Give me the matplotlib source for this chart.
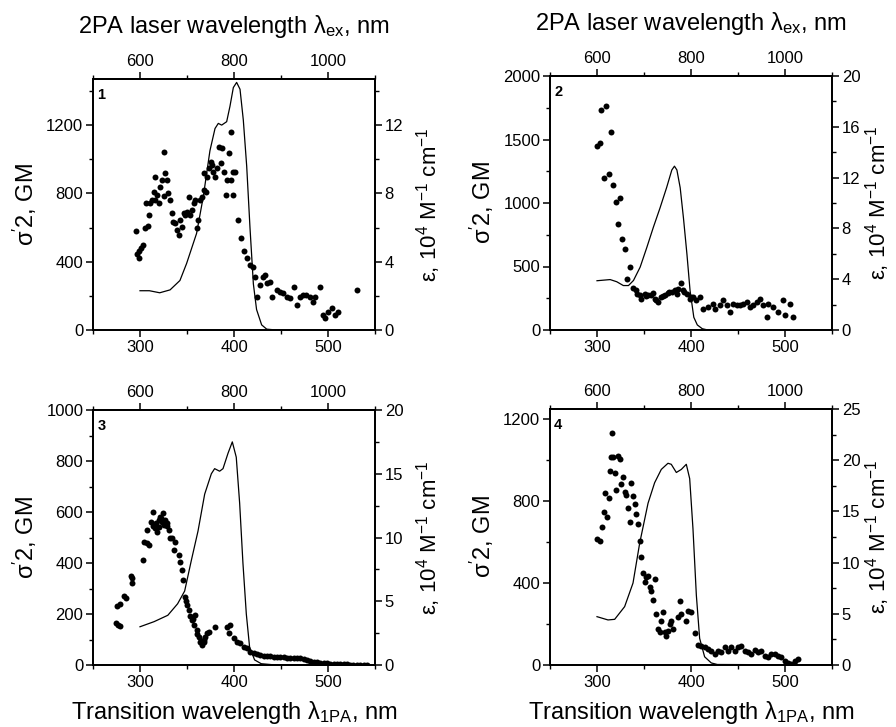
import matplotlib
matplotlib.use("Agg")
import matplotlib.pyplot as plt
from matplotlib.ticker import MultipleLocator, FixedLocator

plt.rcParams['font.family'] = ['Liberation Sans', 'DejaVu Sans']
plt.rcParams['mathtext.fontset'] = 'custom'
plt.rcParams['mathtext.rm'] = 'Liberation Sans'
plt.rcParams['mathtext.it'] = 'Liberation Sans'
plt.rcParams['mathtext.default'] = 'regular'

# ---------------- Panel 1 ----------------
p1_abs_x = [300, 310, 321, 332, 342.5, 349.6, 360.2, 367.3, 374.4, 379.8, 383.3, 386.9, 392.2, 395.7,
            399.3, 402.8, 406.4, 409.9, 413.5, 417, 420.6, 424, 429.4, 434.8, 445, 550]
p1_abs_y = [2.3, 2.3, 2.18, 2.35, 2.9, 3.9, 5.66, 7.8, 10.5, 11.8, 12.1, 12.0, 12.2, 13.1,
            14.2, 14.5, 14.1, 12.3, 9.6, 6.0, 2.7, 1.2, 0.3, 0.05, 0.0, 0.0]
p1_pts_x = [295.7, 296.4, 298.5, 301, 303.5, 298.5, 305.6, 308, 309.6, 306, 311, 315, 313, 316, 318,
            316, 320, 321.6, 323, 325, 327, 328.6, 325, 330, 332, 334, 335.6, 337, 339, 341, 343,
            344.6, 346.5, 348, 350, 352, 353, 355, 357, 359, 360.6, 362, 364, 366, 368, 370, 368,
            371, 373, 375, 376.5, 378, 380, 382, 384, 386, 387.6, 389, 391, 393, 395, 397, 397,
            399, 399, 401, 404.6, 407, 411, 413.5, 417, 420.6, 422.4, 424, 427.7, 431, 433, 434.8,
            438.3, 440, 445.4, 449, 452.5, 456, 459.6, 463.8, 466.7, 470, 473.8, 477, 481, 484.5,
            486.3, 491.6, 494.5, 497, 500.5, 504, 507.6, 511, 531]
p1_pts_y = [580, 447, 420, 478, 497, 460, 597, 611, 674, 742, 742, 810, 762, 762, 791,
            894, 742, 840, 879, 1040, 918, 879, 783, 800, 762, 684, 635, 625, 586, 557, 645,
            606, 684, 674, 693, 781, 674, 703, 742, 762, 597, 645, 762, 781, 820, 811, 918,
            898, 947, 986, 967, 928, 898, 947, 1074, 977, 1065, 928, 791, 879, 1035, 1162, 879,
            928, 791, 928, 645, 538, 460, 420, 381, 371, 313, 196, 264, 313, 322, 274,
            284, 196, 235, 225, 215, 196, 186, 254, 147, 196, 205, 205, 196, 166,
            196, 254, 88, 68, 107, 127, 88, 107, 235]

# ---------------- Panel 2 ----------------
p2_abs_x = [300, 314, 321, 328, 333.5, 338.8, 345.9, 353, 360, 367, 374, 379.6, 382.4, 385, 388.5,
            392, 395.7, 399, 403, 406.7, 412, 418, 550]
p2_abs_y = [3.88, 3.97, 3.8, 3.5, 3.5, 3.9, 4.95, 6.5, 8.1, 9.6, 11.2, 12.6, 12.9, 12.6, 11.2,
            8.8, 5.95, 3.1, 1.0, 0.4, 0.1, 0.0, 0.0]
p2_pts_x = [300, 302.8, 304.6, 309.2, 314.5, 307, 312.4, 317, 319.9, 324.9, 322.3, 327, 329.4, 334.8,
            332, 338, 341.8, 345.4, 347, 350.8, 354, 359.6, 361.3, 365, 368.5, 372, 375.8, 379.3,
            382.8, 384.6, 389.3, 391.7, 395.3, 398.8, 402.3, 405.8, 409.4, 413, 418.3, 423.6,
            425.4, 430.7, 434.3, 437.8, 441.4, 444.9, 448.5, 452, 455.6, 459.1, 462.7, 466.2,
            469.8, 473.3, 476.9, 480.4, 482.2, 487.5, 492.8, 498.2, 500, 505.3, 508.8,
            343, 352, 357, 363, 370, 377, 386, 393, 400]
p2_pts_y = [1451, 1470, 1732, 1764, 1562, 1198, 1232, 1140, 1009, 1040, 832, 714, 641, 496,
            404, 333, 318, 273, 247, 286, 273, 291, 247, 220, 260, 273, 291, 299,
            312, 286, 370, 312, 286, 247, 260, 234, 260, 168, 181, 207,
            168, 194, 234, 194, 142, 207, 194, 194, 207, 220, 181, 194,
            220, 247, 194, 102, 207, 181, 142, 234, 116, 207, 102,
            280, 265, 275, 240, 265, 300, 320, 300, 260]

# ---------------- Panel 3 ----------------
p3_abs_x = [300, 315, 329.6, 340, 347.5, 354.6, 361.7, 368.8, 375.9, 379.4, 384.7, 388.3, 393.6,
            398.2, 402.4, 406, 409.5, 413.1, 416.6, 421.9, 429, 440, 550]
p3_abs_y = [3.0, 3.4, 3.9, 4.8, 5.8, 8.2, 10.5, 13.4, 15.0, 15.4, 15.2, 15.4, 16.6,
            17.5, 16.3, 12.7, 8.0, 4.0, 1.4, 0.4, 0.1, 0.03, 0.0]
p3_pts_x = [274, 277, 278.4, 276, 278.4, 283, 284.8, 290, 291.9, 291, 303, 304.4, 307, 310, 307,
            311.5, 313.7, 316, 319.7, 321.5, 324.3, 326.8, 328.6, 330.4, 334, 337.6, 335.8, 343,
            345, 345.8, 347.5, 350, 351.8, 353.5, 355.3, 358.9, 357, 360.6, 362.4, 364, 366,
            367.7, 369.5, 371.3, 373, 380, 392.4, 394.2, 396, 399.6, 403, 406.8, 410.3, 413.8,
            417.4, 421, 424.5, 428, 431.5, 435, 438.6, 442.2, 445.7, 449.2, 452.8, 456.3, 459.9,
            463.4, 467, 470.5, 474, 477.6, 481.2, 484.8, 488.3, 491.8, 495.4, 498.9, 502.4, 506,
            509.5, 513, 516.6, 520, 523.6, 527, 530.8, 534.3, 537.9, 541,
            314, 317, 320, 323, 326, 318, 322, 329, 332, 341, 349, 356, 361, 365, 368]
p3_pts_y = [163, 157, 153, 231, 238, 271, 264, 349, 323, 341, 412, 484, 477, 471, 529,
            562, 601, 536, 569, 582, 597, 569, 556, 529, 497, 484, 451, 405,
            373, 333, 268, 235, 216, 193, 177, 197, 157, 137, 111, 91, 78,
            91, 111, 124, 131, 150, 150, 124, 157, 105, 91, 85, 72, 65,
            52, 46, 42, 39, 37, 35, 34, 33, 31, 30, 30, 29, 29,
            29, 27, 26, 23, 20, 16, 13, 11, 9, 7, 6, 5, 4,
            3, 3, 2, 2, 1, 1, 1, 1, 1, 1,
            545, 555, 540, 560, 550, 520, 575, 545, 500, 430, 250, 180, 120, 95, 100]

# ---------------- Panel 4 ----------------
p4_abs_x = [300, 311.7, 318.8, 329.4, 338.3, 345.4, 354.3, 361.3, 368.4, 375.5, 379, 384.4, 389.7,
            395, 398.6, 402.1, 405.7, 409.2, 414.5, 421.6, 428, 550]
p4_abs_y = [4.72, 4.4, 4.46, 5.7, 8.0, 11.9, 15.8, 17.8, 19.1, 19.7, 19.6, 18.8, 19.1,
            19.6, 18.2, 13.3, 6.8, 2.6, 0.8, 0.2, 0.05, 0.0]
p4_pts_x = [300, 302.8, 305.3, 307, 308.8, 311, 312.4, 313.5, 315.2, 316, 317.3, 318.8, 320.5, 322.3,
            324, 325.8, 327.5, 329.4, 331, 333, 334.8, 336.6, 338.3, 340, 341.9, 343.6, 345.4, 347,
            349, 350.8, 352.5, 354.3, 356, 357.8, 359.6, 361.3, 363, 365, 366.7, 368.5, 370.2, 372,
            373.8, 375.5, 377.3, 379, 380.9, 386.2, 388.7, 389.7, 395, 396.8, 400.4, 403.9, 407.4,
            411, 414.5, 418, 421.6, 425, 428.7, 432.3, 435.8, 439.3, 442.9, 446.4, 450, 453.5, 457,
            460.6, 464.2, 467.7, 471.3, 474.8, 478.4, 481.9, 485.5, 489, 492.6, 496.1, 499.7,
            503.2, 506.7, 510.3, 513.8]
p4_pts_y = [614, 607, 675, 747, 840, 724, 815, 945, 1016, 1131, 1016, 938, 854, 1022,
            1006, 883, 916, 843, 830, 769, 696, 891, 826, 785, 736, 688, 607, 526,
            448, 404, 428, 437, 380, 363, 318, 421, 249, 176, 159, 216, 257, 159,
            143, 167, 200, 216, 176, 233, 311, 249, 216, 265, 257, 155, 99,
            94, 86, 78, 70, 54, 67, 62, 86, 67, 86, 70, 86, 94, 67,
            62, 54, 73, 62, 70, 46, 37, 54, 54, 46, 37, 21,
            8, 5, 21, 29]

panels = [
    dict(num='1', abs_x=p1_abs_x, abs_y=p1_abs_y, px=p1_pts_x, py=p1_pts_y,
         ylim=1470, yt=[0, 400, 800, 1200], ymin=200, rlim=14.7, rt=[0, 4, 8, 12], rmin=2,
         pos=[93, 79, 282, 251], top_label=True, bottom_label=False, rpad=8),
    dict(num='2', abs_x=p2_abs_x, abs_y=p2_abs_y, px=p2_pts_x, py=p2_pts_y,
         ylim=2000, yt=[0, 500, 1000, 1500, 2000], ymin=250, rlim=20, rt=[0, 4, 8, 12, 16, 20], rmin=2,
         pos=[550, 76, 282, 254], top_label=True, bottom_label=False, rpad=2),
    dict(num='3', abs_x=p3_abs_x, abs_y=p3_abs_y, px=p3_pts_x, py=p3_pts_y,
         ylim=1000, yt=[0, 200, 400, 600, 800, 1000], ymin=100, rlim=20, rt=[0, 5, 10, 15, 20], rmin=2.5,
         pos=[93, 410, 282, 255], top_label=False, bottom_label=True, rpad=8),
    dict(num='4', abs_x=p4_abs_x, abs_y=p4_abs_y, px=p4_pts_x, py=p4_pts_y,
         ylim=1250, yt=[0, 400, 800, 1200], ymin=200, rlim=25, rt=[0, 5, 10, 15, 20, 25], rmin=2.5,
         pos=[550, 409, 282, 256], top_label=False, bottom_label=True, rpad=2),
]

W, H = 896, 727
fig = plt.figure(figsize=(W / 100, H / 100), dpi=100)

TICK_FS = 12
XLAB_FS = 17
YLAB_FS = 17

for p in panels:
    l, t, w, h = p['pos']
    ax = fig.add_axes([l / W, 1 - (t + h) / H, w / W, h / H])
    ax2 = ax.twinx()
    ax2.plot(p['abs_x'], p['abs_y'], color='black', lw=0.9)
    ax.plot(p['px'], p['py'], 'o', color='black', ms=4.3, mew=0, zorder=5)
    ax.set_zorder(ax2.get_zorder() + 1)
    ax.patch.set_visible(False)

    ax.set_xlim(250, 550)
    ax.set_ylim(0, p['ylim'])
    ax2.set_ylim(0, p['rlim'])
    ax.set_xticks([300, 400, 500])
    ax.xaxis.set_minor_locator(FixedLocator([250, 350, 450, 550]))
    ax.set_yticks(p['yt'])
    ax.yaxis.set_minor_locator(MultipleLocator(p['ymin']))
    ax2.set_yticks(p['rt'])
    ax2.yaxis.set_minor_locator(MultipleLocator(p['rmin']))

    for a in (ax, ax2):
        for s in a.spines.values():
            s.set_linewidth(1.3)
        a.tick_params(which='major', direction='out', length=5, width=1.1, labelsize=TICK_FS, pad=2)
        a.tick_params(which='minor', direction='out', length=3, width=1.0)

    sec = ax.secondary_xaxis('top', functions=(lambda x: 2 * x, lambda x: x / 2))
    sec.set_xticks([600, 800, 1000])
    sec.xaxis.set_minor_locator(FixedLocator([500, 700, 900, 1100]))
    sec.tick_params(which='major', direction='out', length=5, width=1.1, labelsize=TICK_FS, pad=2)
    sec.tick_params(which='minor', direction='out', length=3, width=1.0)
    sec.spines['top'].set_linewidth(1.3)

    if p['top_label']:
        sec.set_xlabel(r"2PA laser wavelength $\lambda_{ex}$, nm", fontsize=XLAB_FS, labelpad=15)
    if p['bottom_label']:
        ax.set_xlabel(r"Transition wavelength $\lambda_{1PA}$, nm", fontsize=XLAB_FS, labelpad=7)

    ax.set_ylabel(r"$\sigma'$2, GM", fontsize=YLAB_FS, labelpad=5)
    ax2.set_ylabel(r"$\varepsilon$, 10$^{4}$ M$^{-1}$ cm$^{-1}$", fontsize=YLAB_FS - 1, labelpad=p['rpad'])

    ax.text(0.015, 0.965, p['num'], transform=ax.transAxes, fontsize=10.5, fontweight='bold',
            ha='left', va='top')

fig.savefig('out.png', dpi=100)
